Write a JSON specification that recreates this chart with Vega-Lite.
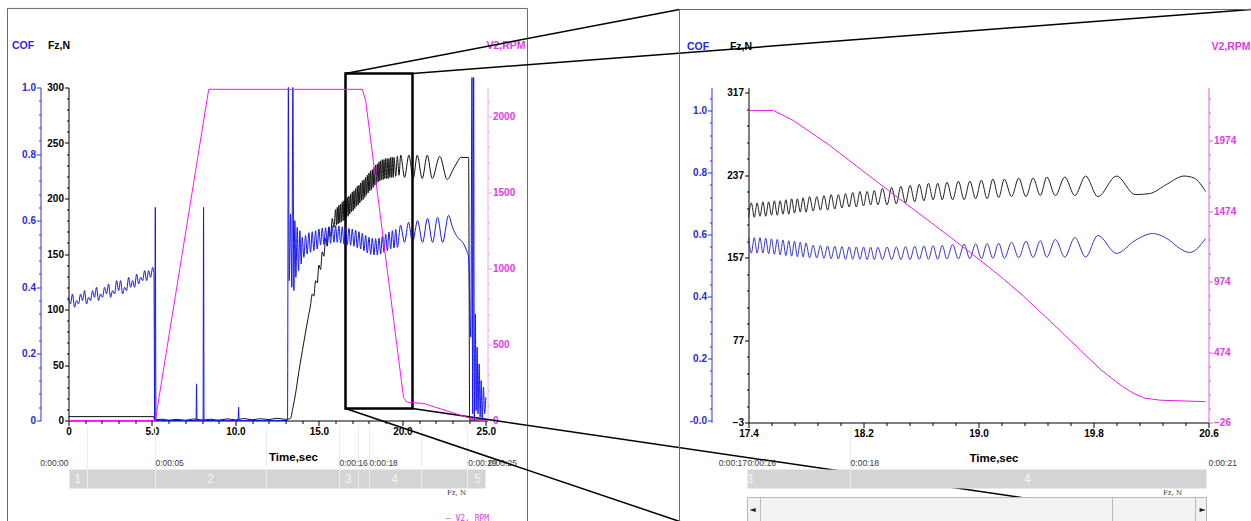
{
"$schema": "https://vega.github.io/schema/vega-lite/v6.json",
"padding": {"left": 6.5, "top": 7.5, "right": 0, "bottom": 0},
"bounds": "flush",
"spacing": 261,
"config": {
 "view": {"stroke": null},
 "axis": {"labelFont": "Liberation Sans", "labelFontWeight": "bold", "labelFontSize": 10, "titleFont": "Liberation Sans", "titleFontWeight": "bold", "titleFontSize": 10.5, "grid": false, "labelPadding": 1, "labelOverlap": false, "labelFlush": false, "labelBound": false, "domainWidth": 1, "tickWidth": 1},
 "text": {"font": "Liberation Sans"}
},
"datasets": {
 "Lfz": [{"t":0,"v":3.5},{"t":5.1,"v":3.5},{"t":5.15,"v":0.5},{"t":5.6,"v":1.2},{"t":6.0,"v":0.3},{"t":6.5,"v":1.0},{"t":7.0,"v":0.2},{"t":7.5,"v":1.4},{"t":8.0,"v":0.4},{"t":8.5,"v":1.1},{"t":9.0,"v":0.3},{"t":9.5,"v":1.5},{"t":10.0,"v":0.5},{"t":10.5,"v":1.8},{"t":11.0,"v":0.6},{"t":11.5,"v":1.6},{"t":12.0,"v":0.8},{"t":12.5,"v":2.0},{"t":13.0,"v":1.0},{"t":13.2,"v":1.5},{"t":13.3,"v":2},{"t":13.45,"v":12},{"t":13.6,"v":24},{"t":13.8,"v":44},{"t":14.08,"v":69},{"t":14.35,"v":92},{"t":14.5,"v":104},
  {"t":14.6,"v":114},{"t":14.7,"v":112},{"t":14.8,"v":126},{"t":14.9,"v":124},{"t":15.0,"v":140},{"t":15.1,"v":136},{"t":15.2,"v":152},{"t":15.3,"v":148},{"t":15.4,"v":164},{"t":15.5,"v":157},{"t":15.6,"v":174},{"t":15.7,"v":166},{"t":15.8,"v":182},{"t":15.9,"v":174},{"t":16.0,"v":190},{"t":16.05,"v":176},{"t":16.1,"v":192},{"t":16.15,"v":177},{"t":16.2,"v":194},{"t":16.25,"v":178},{"t":16.3,"v":195},{"t":16.35,"v":179},{"t":16.4,"v":197},{"t":16.45,"v":180},{"t":16.5,"v":198},{"t":16.55,"v":181},{"t":16.6,"v":199},{"t":16.65,"v":183},{"t":16.7,"v":201},{"t":16.75,"v":184},{"t":16.8,"v":202},{"t":16.85,"v":186},{"t":16.9,"v":204},{"t":16.95,"v":188},{"t":17.0,"v":206},{"t":17.05,"v":189},{"t":17.1,"v":207},{"t":17.15,"v":191},{"t":17.2,"v":209},{"t":17.25,"v":193},{"t":17.3,"v":211},{"t":17.35,"v":194},{"t":17.4,"v":212},{"t":17.45,"v":196},{"t":17.5,"v":214},{"t":17.55,"v":198},{"t":17.6,"v":216},{"t":17.65,"v":199},{"t":17.7,"v":217},{"t":17.75,"v":201},{"t":17.8,"v":219},{"t":17.85,"v":203},{"t":17.9,"v":221},{"t":17.95,"v":205},{"t":18.0,"v":223},{"t":18.05,"v":207},{"t":18.1,"v":225},{"t":18.15,"v":208},{"t":18.2,"v":226},{"t":18.25,"v":210},{"t":18.3,"v":228},{"t":18.35,"v":212},{"t":18.4,"v":230},{"t":18.45,"v":213},{"t":18.5,"v":231},{"t":18.55,"v":215},{"t":18.6,"v":233},{"t":18.65,"v":216},{"t":18.7,"v":234},{"t":18.75,"v":217},{"t":18.8,"v":235},{"t":18.85,"v":217},{"t":18.9,"v":235},{"t":18.95,"v":218},{"t":19.0,"v":236},{"t":19.05,"v":218},{"t":19.1,"v":236},{"t":19.15,"v":218},{"t":19.2,"v":236},{"t":19.25,"v":219},{"t":19.3,"v":237},{"t":19.35,"v":219},{"t":19.4,"v":237},{"t":19.45,"v":219},{"t":19.5,"v":237},{"t":19.6,"v":220},{"t":19.7,"v":238},{"t":19.8,"v":221},{"t":19.9,"v":239},
  {"t":20.13,"v":219},{"t":20.39,"v":239},{"t":20.65,"v":218},{"t":20.89,"v":239},{"t":21.19,"v":218},{"t":21.49,"v":239},{"t":21.79,"v":218},{"t":22.24,"v":238},{"t":22.69,"v":217},{"t":23.0,"v":225},{"t":23.3,"v":233},{"t":23.49,"v":237},{"t":23.97,"v":237},{"t":24.0,"v":120},{"t":24.03,"v":0.5},{"t":25.0,"v":0.5}],
 "Lcof": [{"t":0.00,"v":0.37},{"t":0.12,"v":0.35},{"t":0.24,"v":0.38},{"t":0.36,"v":0.34},{"t":0.48,"v":0.36},{"t":0.60,"v":0.35},{"t":0.72,"v":0.38},{"t":0.84,"v":0.36},{"t":0.96,"v":0.39},{"t":1.08,"v":0.35},{"t":1.20,"v":0.37},{"t":1.32,"v":0.36},{"t":1.44,"v":0.39},{"t":1.56,"v":0.37},{"t":1.68,"v":0.40},{"t":1.80,"v":0.36},{"t":1.92,"v":0.38},{"t":2.04,"v":0.37},{"t":2.16,"v":0.40},{"t":2.28,"v":0.38},{"t":2.40,"v":0.41},{"t":2.52,"v":0.37},{"t":2.64,"v":0.39},{"t":2.76,"v":0.38},{"t":2.88,"v":0.42},{"t":3.00,"v":0.39},{"t":3.12,"v":0.42},{"t":3.24,"v":0.38},{"t":3.36,"v":0.40},{"t":3.48,"v":0.39},{"t":3.60,"v":0.43},{"t":3.72,"v":0.40},{"t":3.84,"v":0.42},{"t":3.96,"v":0.40},{"t":4.08,"v":0.44},{"t":4.20,"v":0.41},{"t":4.32,"v":0.43},{"t":4.44,"v":0.42},{"t":4.56,"v":0.45},{"t":4.68,"v":0.42},{"t":4.80,"v":0.45},{"t":4.92,"v":0.43},{"t":5.04,"v":0.46},{"t":5.12,"v":0.44},
  {"t":5.16,"v":0.0},{"t":5.20,"v":0.64},{"t":5.24,"v":0.0},{"t":7.64,"v":0.0},{"t":7.67,"v":0.11},{"t":7.70,"v":0.0},{"t":8.06,"v":0.0},{"t":8.09,"v":0.64},{"t":8.12,"v":0.0},{"t":10.16,"v":0.0},{"t":10.19,"v":0.04},{"t":10.22,"v":0.0},{"t":13.12,"v":0.0},{"t":13.17,"v":1.0},{"t":13.22,"v":0.42},{"t":13.30,"v":0.62},{"t":13.38,"v":0.40},{"t":13.44,"v":1.0},{"t":13.50,"v":0.39},{"t":13.56,"v":0.60},{"t":13.62,"v":0.43},{"t":13.70,"v":0.58},{"t":13.78,"v":0.45},{"t":13.86,"v":0.57},{"t":13.94,"v":0.47},
  {"t":14.0,"v":0.55},{"t":14.1,"v":0.49},{"t":14.2,"v":0.556},{"t":14.3,"v":0.50},{"t":14.4,"v":0.564},{"t":14.5,"v":0.505},{"t":14.6,"v":0.567},{"t":14.7,"v":0.51},{"t":14.8,"v":0.57},{"t":14.9,"v":0.515},{"t":15.0,"v":0.575},{"t":15.1,"v":0.527},{"t":15.2,"v":0.578},{"t":15.3,"v":0.529},{"t":15.4,"v":0.579},{"t":15.5,"v":0.530},{"t":15.6,"v":0.582},{"t":15.7,"v":0.532},{"t":15.8,"v":0.584},{"t":15.9,"v":0.535},{"t":16.0,"v":0.585},{"t":16.1,"v":0.535},{"t":16.2,"v":0.584},{"t":16.3,"v":0.533},{"t":16.4,"v":0.582},{"t":16.5,"v":0.530},{"t":16.6,"v":0.579},{"t":16.7,"v":0.528},{"t":16.8,"v":0.577},{"t":16.9,"v":0.526},{"t":17.0,"v":0.575},{"t":17.1,"v":0.523},{"t":17.2,"v":0.572},{"t":17.3,"v":0.519},{"t":17.4,"v":0.567},{"t":17.5,"v":0.515},{"t":17.6,"v":0.562},{"t":17.7,"v":0.510},{"t":17.8,"v":0.556},{"t":17.9,"v":0.503},{"t":18.0,"v":0.550},{"t":18.1,"v":0.499},{"t":18.2,"v":0.547},{"t":18.3,"v":0.497},{"t":18.4,"v":0.546},{"t":18.5,"v":0.497},{"t":18.6,"v":0.548},{"t":18.7,"v":0.500},{"t":18.8,"v":0.553},{"t":18.9,"v":0.505},{"t":19.0,"v":0.560},{"t":19.1,"v":0.510},{"t":19.2,"v":0.566},{"t":19.3,"v":0.515},{"t":19.4,"v":0.570},{"t":19.5,"v":0.518},{"t":19.6,"v":0.574},{"t":19.7,"v":0.520},
  {"t":19.89,"v":0.586},{"t":20.13,"v":0.535},{"t":20.37,"v":0.595},{"t":20.61,"v":0.535},{"t":20.91,"v":0.60},{"t":21.21,"v":0.535},{"t":21.51,"v":0.607},{"t":21.81,"v":0.535},{"t":22.11,"v":0.61},{"t":22.41,"v":0.535},{"t":22.77,"v":0.616},{"t":23.0,"v":0.58},{"t":23.31,"v":0.55},{"t":23.61,"v":0.535},{"t":23.85,"v":0.51},{"t":23.97,"v":0.49},{"t":24.1,"v":0.25},{"t":24.17,"v":1.03},{"t":24.21,"v":0.02},{"t":24.27,"v":1.03},{"t":24.31,"v":0.0},{"t":24.37,"v":0.32},{"t":24.42,"v":0.03},{"t":24.48,"v":0.22},{"t":24.53,"v":0.02},{"t":24.6,"v":0.17},{"t":24.66,"v":0.01},{"t":24.72,"v":0.12},{"t":24.78,"v":0.0},{"t":24.86,"v":0.10},{"t":24.93,"v":0.02},{"t":25.0,"v":0.07}],
 "Lrpm": [{"t":0,"v":0},{"t":5.2,"v":0},{"t":8.4,"v":2178},{"t":17.6,"v":2178},{"t":17.8,"v":2105},{"t":20.07,"v":151},{"t":20.29,"v":120},{"t":21.27,"v":112},{"t":23.9,"v":20},{"t":24.7,"v":0},{"t":25.0,"v":0}],
 "Lframe": [{"t":-3.655,"t2":27.497,"v":371.2,"v2":-99.1}],
 "Lband": [{"t":0.06,"t2":24.98,"v":-44.1,"v2":-61.3}],
 "Ldiv": [{"t":1.138,"v":-4.5,"v2":-61.3},{"t":5.212,"v":-4.5,"v2":-61.3},{"t":11.861,"v":-4.5,"v2":-61.3},{"t":16.234,"v":-4.5,"v2":-61.3},{"t":17.373,"v":-4.5,"v2":-61.3},{"t":18.032,"v":-4.5,"v2":-61.3},{"t":21.147,"v":-4.5,"v2":-61.3},{"t":23.902,"v":-4.5,"v2":-61.3}],
 "Lseg": [{"t":0.54,"v":-52.7,"label":"1"},{"t":8.51,"v":-52.7,"label":"2"},{"t":16.77,"v":-52.7,"label":"3"},{"t":19.53,"v":-52.7,"label":"4"},{"t":24.5,"v":-52.7,"label":"5"}],
 "LtimeR": [{"t":0,"v":-38.7,"label":"0:00:00"}],
 "LtimeL": [{"t":5.21,"v":-38.7,"label":"0:00:05"},{"t":16.23,"v":-38.7,"label":"0:00:16"},{"t":18.03,"v":-38.7,"label":"0:00:18"},{"t":23.95,"v":-38.7,"label":"0:00:29"},{"t":25.16,"v":-38.7,"label":"0:00:25"}],
 "Lleg": [{"t":23.24,"v":-64.9,"label":"Fz, N"}],
 "LlegR": [{"t":23.9,"v":-88.3,"label":"—  V2, RPM"}],
 "Lbox": [{"t":16.594,"t2":20.607,"v":312.6,"v2":10.8}],
 "Lconn": [{"t":16.594,"t2":36.60,"v":312.6,"v2":370.3},{"t":20.607,"t2":70.87,"v":312.6,"v2":370.3},{"t":16.594,"t2":37.86,"v":10.8,"v2":-97.3},{"t":20.607,"t2":71.41,"v":10.8,"v2":-100.9}],
 "Rfz": [{"t":17.40,"v":196},{"t":17.42,"v":210},{"t":17.44,"v":196},{"t":17.46,"v":210},{"t":17.48,"v":197},{"t":17.50,"v":211},{"t":17.52,"v":197},{"t":17.54,"v":211},{"t":17.56,"v":198},{"t":17.58,"v":212},{"t":17.60,"v":198},{"t":17.62,"v":212},{"t":17.64,"v":199},{"t":17.66,"v":213},{"t":17.68,"v":199},{"t":17.70,"v":214},{"t":17.72,"v":200},{"t":17.74,"v":214},{"t":17.76,"v":201},{"t":17.78,"v":215},{"t":17.80,"v":201},
  {"t":17.825,"v":216},{"t":17.85,"v":202},{"t":17.875,"v":216},{"t":17.9,"v":203},{"t":17.925,"v":217},{"t":17.95,"v":203},{"t":17.975,"v":218},{"t":18.0,"v":204},{"t":18.025,"v":218},{"t":18.05,"v":205},{"t":18.075,"v":219},{"t":18.1,"v":206},{"t":18.125,"v":220},{"t":18.15,"v":206},{"t":18.175,"v":221},{"t":18.2,"v":207},{"t":18.225,"v":221},{"t":18.25,"v":208},{"t":18.275,"v":222},{"t":18.3,"v":208},
  {"t":18.332,"v":224},{"t":18.364,"v":208},{"t":18.396,"v":225},{"t":18.428,"v":209},{"t":18.46,"v":226},{"t":18.492,"v":210},{"t":18.524,"v":227},{"t":18.556,"v":211},{"t":18.588,"v":228},{"t":18.62,"v":212},{"t":18.652,"v":229},{"t":18.684,"v":213},{"t":18.716,"v":229},{"t":18.748,"v":213},{"t":18.78,"v":230},
  {"t":18.82,"v":213},{"t":18.86,"v":231},{"t":18.9,"v":213},{"t":18.94,"v":231},{"t":18.98,"v":214},{"t":19.02,"v":232},{"t":19.06,"v":214},{"t":19.1,"v":233},{"t":19.14,"v":215},{"t":19.18,"v":233},
  {"t":19.23,"v":216},{"t":19.28,"v":234},{"t":19.33,"v":216},{"t":19.38,"v":234},{"t":19.43,"v":217},{"t":19.475,"v":235},{"t":19.535,"v":217},{"t":19.6,"v":235},{"t":19.67,"v":217},{"t":19.745,"v":236},{"t":19.83,"v":216},{"t":19.96,"v":236},{"t":20.09,"v":218},{"t":20.19,"v":219},{"t":20.31,"v":228},{"t":20.43,"v":236},{"t":20.5,"v":234},{"t":20.58,"v":221}],
 "Rcof": [{"t":17.40,"v":0.59},{"t":17.42,"v":0.54},{"t":17.44,"v":0.59},{"t":17.46,"v":0.54},{"t":17.48,"v":0.59},{"t":17.50,"v":0.54},{"t":17.52,"v":0.588},{"t":17.54,"v":0.538},{"t":17.56,"v":0.586},{"t":17.58,"v":0.536},{"t":17.60,"v":0.584},{"t":17.62,"v":0.534},{"t":17.64,"v":0.582},{"t":17.66,"v":0.532},{"t":17.68,"v":0.58},{"t":17.70,"v":0.53},{"t":17.72,"v":0.578},{"t":17.74,"v":0.528},{"t":17.76,"v":0.575},{"t":17.78,"v":0.527},{"t":17.80,"v":0.573},
  {"t":17.825,"v":0.525},{"t":17.85,"v":0.565},{"t":17.875,"v":0.524},{"t":17.9,"v":0.564},{"t":17.925,"v":0.523},{"t":17.95,"v":0.563},{"t":17.975,"v":0.522},{"t":18.0,"v":0.562},{"t":18.025,"v":0.521},{"t":18.05,"v":0.561},{"t":18.075,"v":0.520},{"t":18.1,"v":0.560},{"t":18.125,"v":0.520},{"t":18.15,"v":0.560},{"t":18.175,"v":0.520},{"t":18.2,"v":0.560},{"t":18.225,"v":0.519},{"t":18.25,"v":0.559},{"t":18.275,"v":0.519},{"t":18.3,"v":0.559},
  {"t":18.332,"v":0.519},{"t":18.364,"v":0.56},{"t":18.396,"v":0.519},{"t":18.428,"v":0.56},{"t":18.46,"v":0.519},{"t":18.492,"v":0.561},{"t":18.524,"v":0.519},{"t":18.556,"v":0.562},{"t":18.588,"v":0.52},{"t":18.62,"v":0.563},{"t":18.652,"v":0.52},{"t":18.684,"v":0.564},{"t":18.716,"v":0.52},{"t":18.748,"v":0.565},{"t":18.78,"v":0.521},
  {"t":18.82,"v":0.568},{"t":18.86,"v":0.521},{"t":18.9,"v":0.569},{"t":18.94,"v":0.522},{"t":18.98,"v":0.57},{"t":19.02,"v":0.522},{"t":19.06,"v":0.571},{"t":19.1,"v":0.523},{"t":19.14,"v":0.572},{"t":19.18,"v":0.523},
  {"t":19.23,"v":0.575},{"t":19.28,"v":0.525},{"t":19.33,"v":0.578},{"t":19.38,"v":0.526},{"t":19.43,"v":0.58},{"t":19.475,"v":0.527},{"t":19.535,"v":0.584},{"t":19.6,"v":0.527},{"t":19.67,"v":0.59},{"t":19.745,"v":0.527},{"t":19.83,"v":0.597},{"t":19.96,"v":0.539},{"t":20.09,"v":0.581},{"t":20.21,"v":0.603},{"t":20.33,"v":0.581},{"t":20.4,"v":0.555},{"t":20.47,"v":0.542},{"t":20.58,"v":0.587}],
 "Rrpm": [{"t":17.40,"v":2187},{"t":17.574,"v":2187},{"t":17.713,"v":2115},{"t":17.957,"v":1945},{"t":18.193,"v":1760},{"t":18.437,"v":1570},{"t":18.673,"v":1390},{"t":18.917,"v":1200},{"t":19.153,"v":1010},{"t":19.313,"v":870},{"t":19.501,"v":690},{"t":19.849,"v":350},{"t":20.0,"v":230},{"t":20.08,"v":180},{"t":20.15,"v":148},{"t":20.266,"v":132},{"t":20.579,"v":122}],
 "Rframe": [{"t":16.92,"t2":20.962,"v":397.5,"v2":-107.7}],
 "Rband": [{"t":17.393,"t2":20.586,"v":-48.6,"v2":-67.0}],
 "Rdiv": [{"t":18.11,"v":-5.9,"v2":-67.0}],
 "Rseg": [{"t":17.41,"v":-57.8,"label":"3"},{"t":19.34,"v":-57.8,"label":"4"}],
 "RtimeR": [{"t":17.39,"v":-41.8,"label":"0:00:17"}],
 "RtimeL": [{"t":17.393,"v":-41.8,"label":"0:00:16"},{"t":18.11,"v":-41.8,"label":"0:00:18"},{"t":20.6,"v":-41.8,"label":"0:00:21"}],
 "Rscroll": [{"t":17.393,"t2":20.586,"v":-75.7,"v2":-107.7}],
 "Rscrollv": [{"t":17.483,"v":-75.7,"v2":-107.7},{"t":19.932,"v":-75.7,"v2":-107.7},{"t":20.51,"v":-75.7,"v2":-107.7}],
 "Rarrow": [{"t":17.428,"v":-87.4,"label":"◄"},{"t":20.558,"v":-87.4,"label":"►"}],
 "Rleg": [{"t":20.35,"v":-70.9,"label":"Fz, N"}]
},
"hconcat": [
 {
  "width": 419, "height": 333,
  "encoding": {"x": {"field": "t", "type": "quantitative", "scale": {"domain": [0, 25.1], "nice": false, "zero": false},
   "axis": {"values": [0,1,2,3,4,5,6,7,8,9,10,11,12,13,14,15,16,17,18,19,20,21,22,23,24,25],
    "labelExpr": "datum.value % 5 == 0 ? (datum.value == 0 ? '0' : format(datum.value, '.1f')) : ''",
    "tickSize": {"condition": {"test": "datum.value % 5 == 0", "value": 5}, "value": 3},
    "title": "Time,sec", "titleX": 224.5, "titleY": 37, "titleAlign": "center", "titleBaseline": "middle", "titleFontSize": 11.5,
    "domainColor": "#000", "tickColor": "#000", "labelColor": "#000", "titleColor": "#000"}}},
  "layer": [
   {
    "encoding": {"y": {"field": "v", "type": "quantitative", "scale": {"domain": [0, 300], "nice": false, "zero": false},
     "axis": {"orient": "left", "values": [0,10,20,30,40,50,60,70,80,90,100,110,120,130,140,150,160,170,180,190,200,210,220,230,240,250,260,270,280,290,300],
      "labelExpr": "datum.value % 50 == 0 ? format(datum.value, 'd') : ''",
      "tickSize": {"condition": {"test": "datum.value % 50 == 0", "value": 4}, "value": 2},
      "title": "Fz,N", "titleAngle": 0, "titleX": -10, "titleY": -42, "titleAlign": "center", "titleBaseline": "middle",
      "domainColor": "#000", "tickColor": "#000", "labelColor": "#000", "titleColor": "#000"}}},
    "layer": [
     {"data": {"name": "Lframe"}, "mark": {"type": "rect", "fill": null, "fillOpacity": 0, "stroke": "#6a6a6a", "strokeWidth": 1, "clip": false}, "encoding": {"x2": {"field": "t2"}, "y2": {"field": "v2"}}},
     {"data": {"name": "Lband"}, "mark": {"type": "rect", "color": "#d4d4d4", "clip": false}, "encoding": {"x2": {"field": "t2"}, "y2": {"field": "v2"}}},
     {"data": {"name": "Ldiv"}, "mark": {"type": "rule", "color": "#ececec", "strokeWidth": 1, "clip": false}, "encoding": {"y2": {"field": "v2"}}},
     {"data": {"name": "Lseg"}, "mark": {"type": "text", "align": "center", "baseline": "middle", "fontSize": 12, "color": "#f4f4f4", "clip": false}, "encoding": {"text": {"field": "label"}}},
     {"data": {"name": "LtimeR"}, "mark": {"type": "text", "align": "right", "baseline": "middle", "fontSize": 8.5, "color": "#3a3a3a", "clip": false}, "encoding": {"text": {"field": "label"}}},
     {"data": {"name": "LtimeL"}, "mark": {"type": "text", "align": "left", "baseline": "middle", "fontSize": 8.5, "color": "#3a3a3a", "clip": false}, "encoding": {"text": {"field": "label"}}},
     {"data": {"name": "Lleg"}, "mark": {"type": "text", "align": "center", "baseline": "middle", "fontSize": 7, "font": "DejaVu Serif", "color": "#333", "clip": false}, "encoding": {"text": {"field": "label"}}},
     {"data": {"name": "LlegR"}, "mark": {"type": "text", "align": "center", "baseline": "middle", "fontSize": 8, "font": "DejaVu Sans Mono", "color": "#e040e0", "clip": false}, "encoding": {"text": {"field": "label"}}},
     {"data": {"name": "Lfz"}, "mark": {"type": "line", "color": "#111111", "strokeWidth": 1, "interpolate": "monotone", "clip": false}},
     {"data": {"name": "Lbox"}, "mark": {"type": "rect", "fill": null, "fillOpacity": 0, "stroke": "#000", "strokeWidth": 2.5, "clip": false}, "encoding": {"x2": {"field": "t2"}, "y2": {"field": "v2"}}},
     {"data": {"name": "Lconn"}, "mark": {"type": "rule", "color": "#000", "strokeWidth": 1.5, "clip": false}, "encoding": {"x2": {"field": "t2"}, "y2": {"field": "v2"}}}
    ]
   },
   {"data": {"name": "Lcof"}, "mark": {"type": "line", "color": "#1414f0", "strokeWidth": 1, "interpolate": "monotone", "clip": false},
    "encoding": {"y": {"field": "v", "type": "quantitative", "scale": {"domain": [0, 1], "nice": false, "zero": false},
     "axis": {"orient": "left", "offset": 28, "values": [0,0.04,0.08,0.12,0.16,0.2,0.24,0.28,0.32,0.36,0.4,0.44,0.48,0.52,0.56,0.6,0.64,0.68,0.72,0.76,0.8,0.84,0.88,0.92,0.96,1.0],
      "labelExpr": "abs(datum.value*5 - round(datum.value*5)) < 0.001 ? (datum.value == 0 ? '0' : format(datum.value, '.1f')) : ''",
      "tickSize": {"condition": {"test": "abs(datum.value*5 - round(datum.value*5)) < 0.001", "value": 4}, "value": 2},
      "title": "COF", "titleAngle": 0, "titleX": -18, "titleY": -42, "titleAlign": "center", "titleBaseline": "middle",
      "domainColor": "#3030e0", "tickColor": "#3030e0", "labelColor": "#2a2ad8", "titleColor": "#2a2ad8"}}}},
   {"data": {"name": "Lrpm"}, "mark": {"type": "line", "color": "#ff10ff", "strokeWidth": 1, "clip": false},
    "encoding": {"y": {"field": "v", "type": "quantitative", "scale": {"domain": [0, 2190], "nice": false, "zero": false},
     "axis": {"orient": "right", "offset": 0, "values": [0,100,200,300,400,500,600,700,800,900,1000,1100,1200,1300,1400,1500,1600,1700,1800,1900,2000,2100],
      "labelExpr": "datum.value % 500 == 0 ? format(datum.value, 'd') : ''",
      "tickSize": {"condition": {"test": "datum.value % 500 == 0", "value": 4}, "value": 2},
      "title": "V2,RPM", "titleAngle": 0, "titleX": 18, "titleY": -42, "titleAlign": "center", "titleBaseline": "middle",
      "domainColor": "#f4a8f4", "tickColor": "#f0a0f0", "labelColor": "#e03ce0", "titleColor": "#e03ce0"}}}}
  ],
  "resolve": {"scale": {"y": "independent"}}
 },
 {
  "width": 460, "height": 335,
  "encoding": {"x": {"field": "t", "type": "quantitative", "scale": {"domain": [17.4, 20.6], "nice": false, "zero": false},
   "axis": {"values": [17.4,17.56,17.72,17.88,18.04,18.2,18.36,18.52,18.68,18.84,19.0,19.16,19.32,19.48,19.64,19.8,19.96,20.12,20.28,20.44,20.6],
    "labelExpr": "abs((datum.value - 17.4)/0.8 - round((datum.value - 17.4)/0.8)) < 0.01 ? format(datum.value, '.1f') : ''",
    "tickSize": {"condition": {"test": "abs((datum.value - 17.4)/0.8 - round((datum.value - 17.4)/0.8)) < 0.01", "value": 5}, "value": 3},
    "title": "Time,sec", "titleX": 245, "titleY": 36, "titleAlign": "center", "titleBaseline": "middle", "titleFontSize": 11.5,
    "domainColor": "#000", "tickColor": "#000", "labelColor": "#000", "titleColor": "#000"}}},
  "layer": [
   {
    "encoding": {"y": {"field": "v", "type": "quantitative", "scale": {"domain": [-3, 321.85], "nice": false, "zero": false},
     "axis": {"orient": "left", "values": [-3,13,29,45,61,77,93,109,125,141,157,173,189,205,221,237,253,269,285,301,317],
      "labelExpr": "(datum.value + 3) % 80 == 0 ? format(datum.value, 'd') : ''",
      "tickSize": {"condition": {"test": "(datum.value + 3) % 80 == 0", "value": 4}, "value": 2},
      "title": "Fz,N", "titleAngle": 0, "titleX": -8, "titleY": -41, "titleAlign": "center", "titleBaseline": "middle",
      "domainColor": "#000", "tickColor": "#000", "labelColor": "#000", "titleColor": "#000"}}},
    "layer": [
     {"data": {"name": "Rframe"}, "mark": {"type": "rect", "fill": null, "fillOpacity": 0, "stroke": "#6a6a6a", "strokeWidth": 1, "clip": false}, "encoding": {"x2": {"field": "t2"}, "y2": {"field": "v2"}}},
     {"data": {"name": "Rband"}, "mark": {"type": "rect", "color": "#d4d4d4", "clip": false}, "encoding": {"x2": {"field": "t2"}, "y2": {"field": "v2"}}},
     {"data": {"name": "Rdiv"}, "mark": {"type": "rule", "color": "#ececec", "strokeWidth": 1, "clip": false}, "encoding": {"y2": {"field": "v2"}}},
     {"data": {"name": "Rseg"}, "mark": {"type": "text", "align": "center", "baseline": "middle", "fontSize": 12, "color": "#f4f4f4", "clip": false}, "encoding": {"text": {"field": "label"}}},
     {"data": {"name": "RtimeR"}, "mark": {"type": "text", "align": "right", "baseline": "middle", "fontSize": 8.5, "color": "#3a3a3a", "clip": false}, "encoding": {"text": {"field": "label"}}},
     {"data": {"name": "RtimeL"}, "mark": {"type": "text", "align": "left", "baseline": "middle", "fontSize": 8.5, "color": "#3a3a3a", "clip": false}, "encoding": {"text": {"field": "label"}}},
     {"data": {"name": "Rscroll"}, "mark": {"type": "rect", "fill": "#f2f2f2", "stroke": "#b8b8b8", "strokeWidth": 1, "clip": false}, "encoding": {"x2": {"field": "t2"}, "y2": {"field": "v2"}}},
     {"data": {"name": "Rscrollv"}, "mark": {"type": "rule", "color": "#b8b8b8", "strokeWidth": 1, "clip": false}, "encoding": {"y2": {"field": "v2"}}},
     {"data": {"name": "Rarrow"}, "mark": {"type": "text", "align": "center", "baseline": "middle", "fontSize": 8, "font": "DejaVu Sans", "color": "#222", "clip": false}, "encoding": {"text": {"field": "label"}}},
     {"data": {"name": "Rleg"}, "mark": {"type": "text", "align": "center", "baseline": "middle", "fontSize": 7, "font": "DejaVu Serif", "color": "#333", "clip": false}, "encoding": {"text": {"field": "label"}}},
     {"data": {"name": "Rfz"}, "mark": {"type": "line", "color": "#222222", "strokeWidth": 1, "interpolate": "monotone", "clip": false}}
    ]
   },
   {"data": {"name": "Rcof"}, "mark": {"type": "line", "color": "#3535cc", "strokeWidth": 1, "interpolate": "monotone", "clip": false},
    "encoding": {"y": {"field": "v", "type": "quantitative", "scale": {"domain": [-0.00645, 1.0742], "nice": false, "zero": false},
     "axis": {"orient": "left", "offset": 37, "values": [0,0.04,0.08,0.12,0.16,0.2,0.24,0.28,0.32,0.36,0.4,0.44,0.48,0.52,0.56,0.6,0.64,0.68,0.72,0.76,0.8,0.84,0.88,0.92,0.96,1.0,1.04],
      "labelExpr": "abs(datum.value*5 - round(datum.value*5)) < 0.001 ? (datum.value == 0 ? '-0.0' : format(datum.value, '.1f')) : ''",
      "tickSize": {"condition": {"test": "abs(datum.value*5 - round(datum.value*5)) < 0.001", "value": 4}, "value": 2},
      "title": "COF", "titleAngle": 0, "titleX": -14, "titleY": -41, "titleAlign": "center", "titleBaseline": "middle",
      "domainColor": "#3030e0", "tickColor": "#3030e0", "labelColor": "#2a2ad8", "titleColor": "#2a2ad8"}}}},
   {"data": {"name": "Rrpm"}, "mark": {"type": "line", "color": "#e61ee6", "strokeWidth": 1, "clip": false},
    "encoding": {"y": {"field": "v", "type": "quantitative", "scale": {"domain": [-26, 2350], "nice": false, "zero": false},
     "axis": {"orient": "right", "offset": 0, "values": [-26,74,174,274,374,474,574,674,774,874,974,1074,1174,1274,1374,1474,1574,1674,1774,1874,1974,2074,2174,2274],
      "labelExpr": "(datum.value + 26) % 500 == 0 ? format(datum.value, 'd') : ''",
      "tickSize": {"condition": {"test": "(datum.value + 26) % 500 == 0", "value": 4}, "value": 2},
      "title": "V2,RPM", "titleAngle": 0, "titleX": 22, "titleY": -41, "titleAlign": "center", "titleBaseline": "middle",
      "domainColor": "#e060e0", "tickColor": "#e060e0", "labelColor": "#e03ce0", "titleColor": "#e03ce0"}}}}
  ],
  "resolve": {"scale": {"y": "independent"}}
 }
]
}
